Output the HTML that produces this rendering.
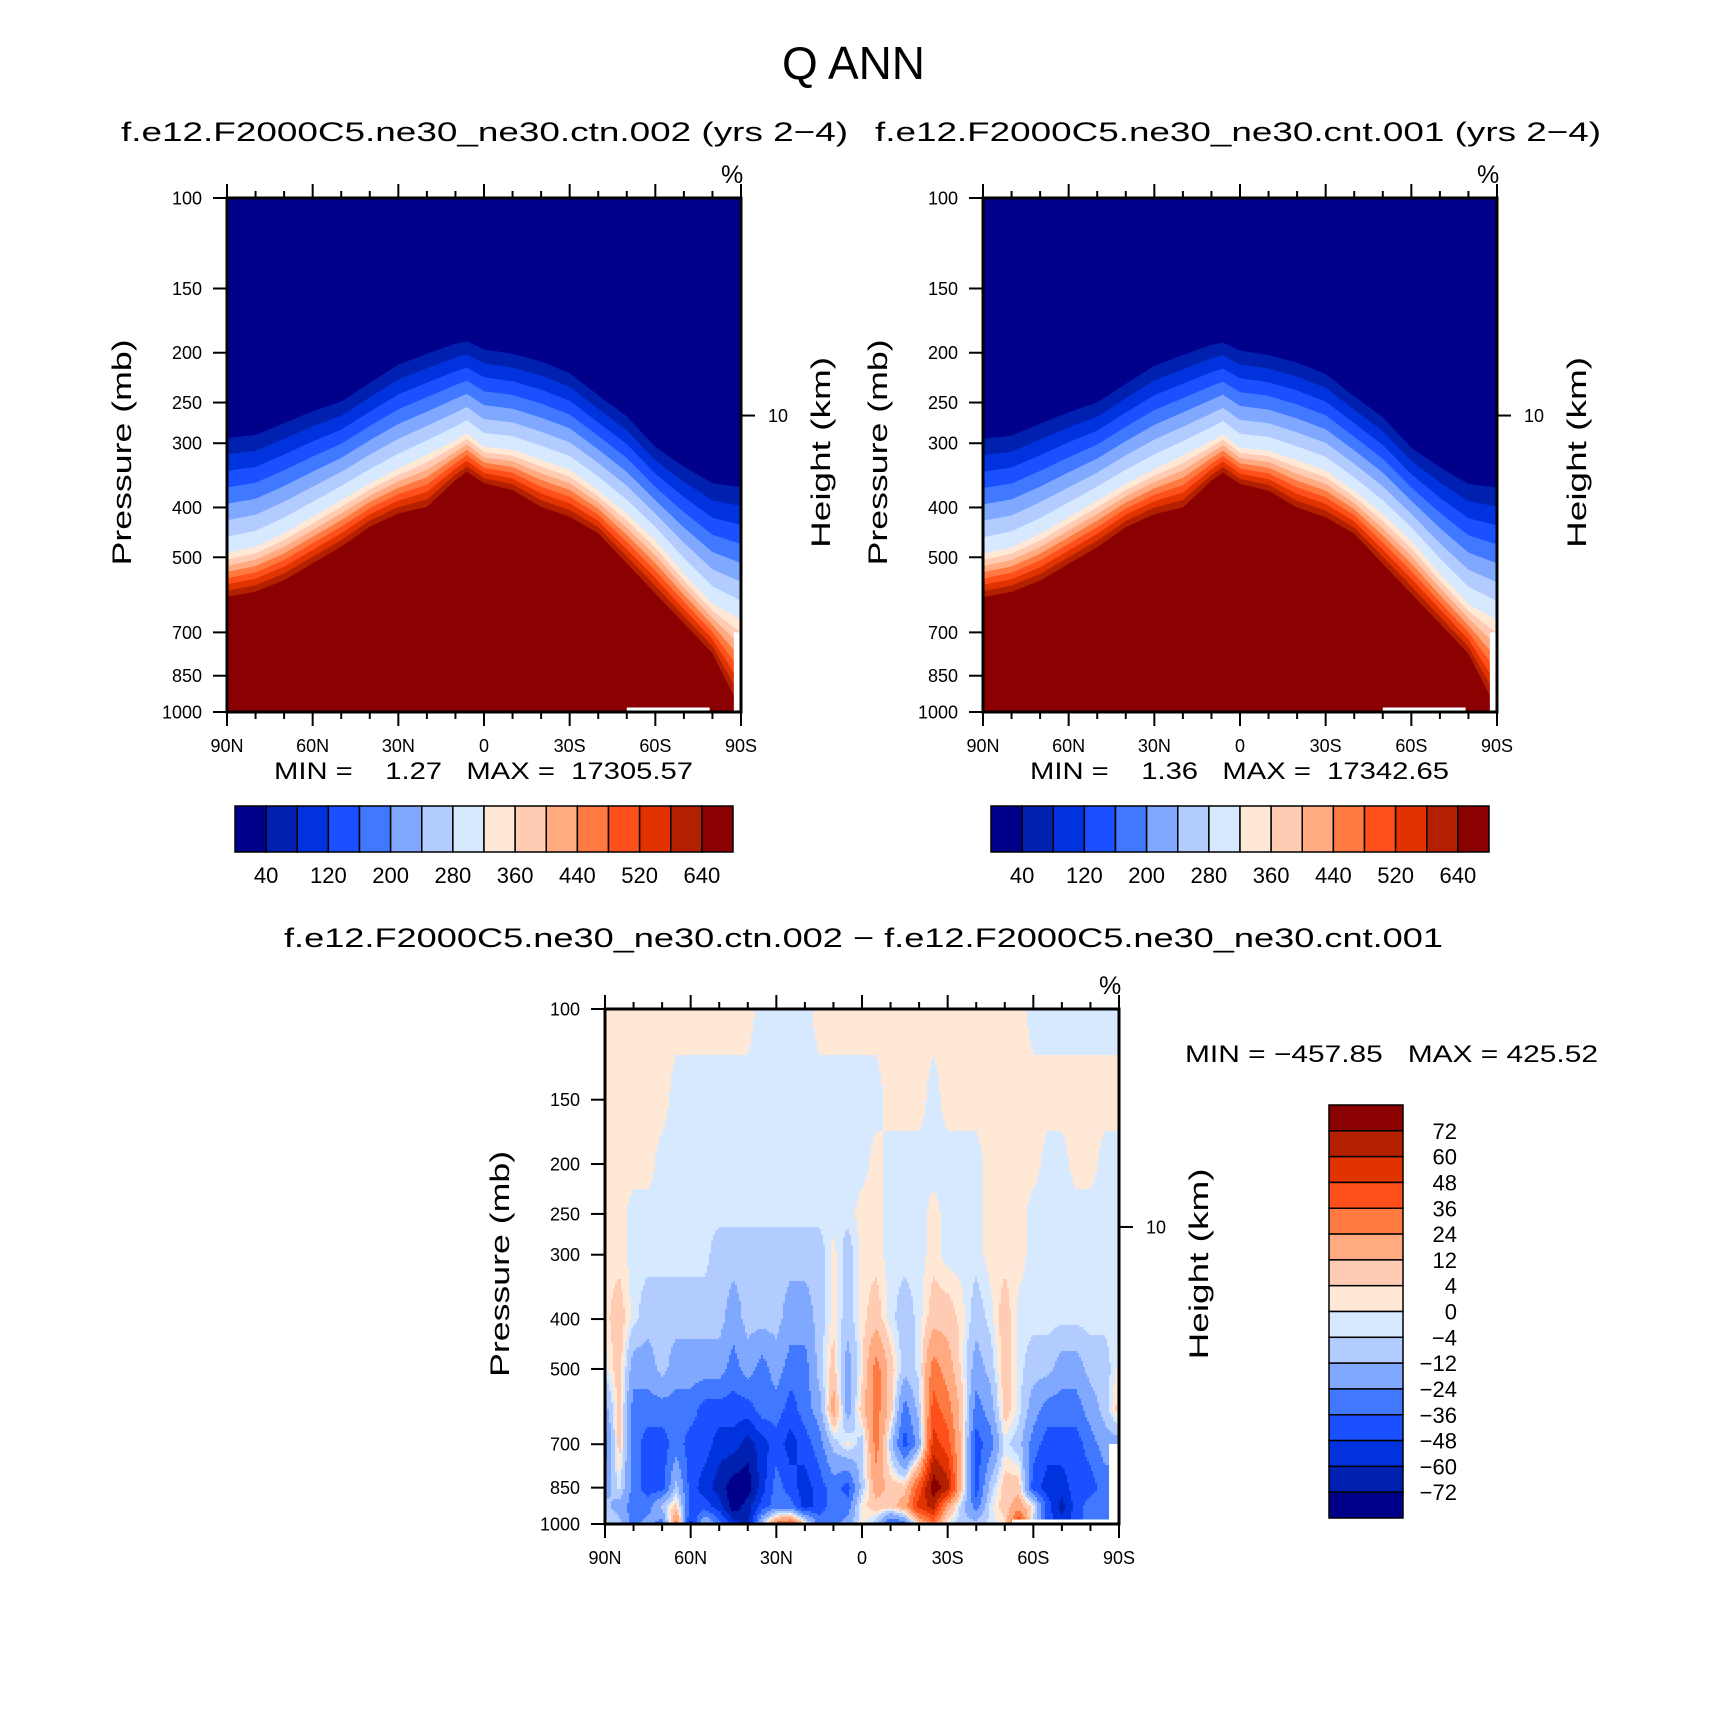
<!DOCTYPE html>
<html><head><meta charset="utf-8"><title>Q ANN</title>
<style>
html,body{margin:0;padding:0;background:#fff;}
svg{display:block;}
text{font-family:"Liberation Sans",sans-serif;fill:#000;}
</style></head>
<body>
<svg id="fig" xmlns="http://www.w3.org/2000/svg" width="1710" height="1733" viewBox="0 0 1710 1733">
<rect x="0" y="0" width="1710" height="1733" fill="#fff"/>
<text x="782" y="79" font-size="46" textLength="143" lengthAdjust="spacingAndGlyphs">Q ANN</text>
<text x="121" y="141" font-size="27" textLength="727" lengthAdjust="spacingAndGlyphs">f.e12.F2000C5.ne30_ne30.ctn.002 (yrs 2−4)</text>
<text x="875" y="141" font-size="27" textLength="726" lengthAdjust="spacingAndGlyphs">f.e12.F2000C5.ne30_ne30.cnt.001 (yrs 2−4)</text>
<text x="284" y="947" font-size="27" textLength="1159" lengthAdjust="spacingAndGlyphs">f.e12.F2000C5.ne30_ne30.ctn.002 − f.e12.F2000C5.ne30_ne30.cnt.001</text>
<text x="274" y="779" font-size="24" textLength="419" lengthAdjust="spacingAndGlyphs" xml:space="preserve">MIN =    1.27   MAX =  17305.57</text>
<text x="1030" y="779" font-size="24" textLength="419" lengthAdjust="spacingAndGlyphs" xml:space="preserve">MIN =    1.36   MAX =  17342.65</text>
<text x="1185" y="1062" font-size="24" textLength="413" lengthAdjust="spacingAndGlyphs" xml:space="preserve">MIN = −457.85   MAX = 425.52</text>
</svg>
<script>
// ---------- data: control / test panels (pressure, mb, of contour boundaries) ----------
const topLats = [90,80,70,60,50,40,30,20,10,6,0,-10,-20,-30,-40,-50,-60,-70,-80,-90];
const ctnLevel40p  = [293,289,274,260,249,229,211,201,192,190,197,201,208,219,242,266,305,333,359,365];
const ctnLevel320p = [491,477,449,417,387,359,336,316,296,287,305,309,323,338,370,411,463,537,615,662];
const ctnLevel640p = [597,583,554,514,477,436,411,399,354,341,359,370,399,417,449,514,588,672,769,990];
const cntLevel40p  = [294,290,275,261,250,230,212,202,193,191,198,202,209,220,243,267,306,334,360,366];
const cntLevel320p = [492,478,450,418,388,360,337,317,297,288,306,310,324,339,371,412,464,538,616,663];
const cntLevel640p = [598,584,555,515,478,437,412,400,355,342,360,371,400,418,450,515,589,673,770,990];
const topCbLabels = ['40','120','200','280','360','440','520','640'];
const topCbLabelSlots = [1,3,5,7,9,11,13,15];
// ---------- data: difference panel (values on lat x pressure grid) ----------
const diffLats = [90,85,80,75,70,65,60,55,50,45,40,35,30,25,20,15,10,5,0,-5,-10,-15,-20,-25,-30,-35,-40,-45,-50,-55,-60,-65,-70,-75,-80,-85,-90];
const diffLevels = [100,150,200,250,300,400,500,600,700,850,925,1000];
const diff100 = [2,2,2,2,2,2,2,2,2,2,2,-2,-2,-2,-2,2,2,2,2,2,2,2,2,2,2,2,2,2,2,2,-2,-2,-2,-2,-2,-2,-2];
const diff150 = [2,2,2,2,2,-2,-2,-2,-2,-2,-2,-2,-2,-2,-2,-2,-2,-2,-2,-2,2,2,2,-2,2,2,2,2,2,2,2,2,2,2,2,2,2];
const diff200 = [2,2,2,2,-2,-2,-2,-2,-2,-2,-2,-2,-2,-2,-2,-2,-2,-2,-2,2,-2,-2,-2,-2,-2,-2,-2,2,2,2,2,-2,-2,2,2,-2,-2];
const diff250 = [2,2,-2,-2,-2,-2,-2,-2,-2,-2,-2,-2,-2,-2,-2,-2,-2,-2,2,2,-2,-2,-2,2,-2,-2,-2,2,2,2,-2,-2,-2,-2,-2,-2,-2];
const diff300 = [2,2,-2,-2,-2,-2,-2,-2,-8,-8,-8,-8,-8,-8,-8,-8,2,-8,2,2,-2,-2,-2,2,-2,-2,-2,2,2,2,-2,-2,-2,-2,-2,-2,-2];
const diff400 = [2,8,-2,-8,-8,-8,-8,-8,-8,-18,-8,-8,-8,-18,-18,-8,2,-8,2,8,-2,-8,-2,8,8,2,-8,-2,8,-2,-2,-2,-2,-2,-2,-2,-2];
const diff500 = [-2,8,-18,-18,-8,-18,-18,-18,-18,-30,-18,-30,-18,-30,-30,-8,8,-18,2,30,8,-8,-2,30,18,2,-18,-8,8,-2,-8,-8,-18,-18,-8,-8,2];
const diff600 = [-18,8,-30,-30,-30,-30,-30,-42,-42,-42,-42,-30,-30,-42,-30,-18,18,-18,8,30,8,-30,-8,42,30,8,-30,-18,8,-2,-18,-30,-30,-30,-18,-8,8];
const diff700 = [-30,8,-30,-42,-42,-30,-42,-42,-54,-54,-66,-54,-42,-54,-42,-30,-8,2,-8,30,-8,-42,-18,54,42,8,-42,-30,-2,-8,-30,-42,-42,-42,-30,-18,-18];
const diff850 = [-18,-2,-30,-42,-42,-8,-42,-54,-66,-80,-80,-54,-30,-42,-54,-42,-30,-42,-8,18,8,8,42,80,66,8,-42,-8,8,8,-42,-54,-54,-42,-42,-30,-30];
const diff925 = [-8,-18,-30,-30,-8,8,-42,-42,-54,-80,-66,-42,-30,-30,-54,-42,-30,-30,2,8,8,18,54,66,18,-8,-30,-2,8,18,2,-42,-66,-42,-30,-30,-30];
const diff1000 = [-2,-8,-30,-18,-30,30,-54,-8,-30,-54,-66,-8,30,42,8,-30,-30,-18,2,-8,-42,-30,8,30,-2,-8,-8,-2,2,54,-8,-42,-54,-42,-30,-30,-30];
const diffCbLabels = ['72','60','48','36','24','12','4','0','−4','−12','−24','−36','−48','−60','−72'];
const diffThresholds = [-72,-60,-48,-36,-24,-12,-4,0,4,12,24,36,48,60,72];
const pressureTicks = [100,150,200,250,300,400,500,700,850,1000];
const latTickLabels = ['90N','60N','30N','0','30S','60S','90S'];
const latTickValues = [90,60,30,0,-30,-60,-90];
const heightTickP = 265;

const PAL = ['#00008b','#0020b0','#0033dd','#1a50ff','#4079ff','#80a8ff','#b3ccff','#d6e9ff','#ffe9d6','#ffccb3','#ffaa80','#ff7a40','#ff4f1a','#e03300','#b32000','#8b0000'];
const NS = 'http://www.w3.org/2000/svg';
const svg = document.getElementById('fig');
function mk(tag, attrs, parent){
  const e = document.createElementNS(NS, tag);
  for (const k in attrs) e.setAttribute(k, attrs[k]);
  (parent || svg).appendChild(e);
  return e;
}
function xLat(lat, L, W){ return L + W * (90 - lat) / 180; }
function yP(p, T, H){ return T + H * Math.log10(p / 100); }

function drawAxes(L, T, W, H, prefix){
  const g = mk('g', {});
  
  
  const border = mk('rect', {x:L, y:T, width:W, height:H, fill:'none', stroke:'#000', 'stroke-width':3}, g);
  
  
  for (let lat = 90; lat >= -90; lat -= 10){
    const x = xLat(lat, L, W);
    const major = (lat % 30 === 0);
    const len = major ? 14 : 7;
    const t1 = mk('line', {x1:x, y1:T, x2:x, y2:T-len, stroke:'#000', 'stroke-width':2}, g);
    
    
    const t2 = mk('line', {x1:x, y1:T+H, x2:x, y2:T+H+len, stroke:'#000', 'stroke-width':2}, g);
    
    
  }
  latTickValues.forEach((lat, i) => {
    const t = mk('text', {x:xLat(lat, L, W), y:T+H+40, 'font-size':18, 'text-anchor':'middle'}, g);
    t.textContent = latTickLabels[i];
    
    
  });
  pressureTicks.forEach(p => {
    const y = yP(p, T, H);
    const tk = mk('line', {x1:L-14, y1:y, x2:L, y2:y, stroke:'#000', 'stroke-width':2}, g);
    
    
    const t = mk('text', {x:L-25, y:y+6.5, 'font-size':18, 'text-anchor':'end'}, g);
    t.textContent = String(p);
    
    
  });
  const hy = yP(heightTickP, T, H);
  const ht = mk('line', {x1:L+W, y1:hy, x2:L+W+14, y2:hy, stroke:'#000', 'stroke-width':2}, g);
  
  
  const hl = mk('text', {x:L+W+27, y:hy+6.5, 'font-size':18}, g);
  hl.textContent = '10';
  
  
  const pc = mk('text', {x:L+W-20, y:T-15, 'font-size':25}, g);
  pc.textContent = '%';
  
  
  const cy = T + H * 0.495;
  const yt = mk('text', {x:0, y:0, 'font-size':27, 'text-anchor':'middle', textLength:226, lengthAdjust:'spacingAndGlyphs', transform:'translate(' + (L-96) + ',' + cy + ') rotate(-90)'}, g);
  yt.textContent = 'Pressure (mb)';
  
  
  const ht2 = mk('text', {x:0, y:0, 'font-size':27, 'text-anchor':'middle', textLength:191, lengthAdjust:'spacingAndGlyphs', transform:'translate(' + (L+W+89) + ',' + cy + ') rotate(-90)'}, g);
  ht2.textContent = 'Height (km)';
  
  
}

function drawTopPanel(L, T, W, H, prefix, b1, b8, b15){
  const cid = prefix + '-clip';
  const cp = mk('clipPath', {id:cid});
  mk('rect', {x:L, y:T, width:W, height:H}, cp);
  const g = mk('g', {'clip-path':'url(#' + cid + ')'});
  
  
  const bg = mk('rect', {x:L, y:T, width:W, height:H, fill:PAL[0]}, g);
  
  
  for (let k = 1; k <= 15; k++){
    const pts = [];
    topLats.forEach((lat, j) => {
      let lp;
      const a = Math.log10(b1[j]), m = Math.log10(b8[j]), z = Math.log10(b15[j]);
      if (k <= 8) lp = a + (m - a) * (k - 1) / 7; else lp = m + (z - m) * (k - 8) / 7;
      pts.push(xLat(lat, L, W).toFixed(1) + ',' + yP(Math.pow(10, lp), T, H).toFixed(1));
    });
    pts.push((L+W) + ',' + (T+H+5));
    pts.push(L + ',' + (T+H+5));
    const poly = mk('polygon', {points:pts.join(' '), fill:PAL[k]}, g);
    
    
  }
  const m1 = mk('rect', {x:xLat(-87.5, L, W), y:yP(700, T, H), width:xLat(-90, L, W)-xLat(-87.5, L, W), height:T+H-yP(700, T, H), fill:'#fff'}, g);
  
  
  const m2 = mk('rect', {x:xLat(-50, L, W), y:yP(980, T, H), width:xLat(-79, L, W)-xLat(-50, L, W), height:T+H-yP(980, T, H), fill:'#fff'}, g);
  
  
  drawAxes(L, T, W, H, prefix);
}

function drawHCb(L, T, W, H, prefix){
  const g = mk('g', {});
  
  
  const bw = W / 16;
  for (let k = 0; k < 16; k++){
    const r = mk('rect', {x:L + k*bw, y:T, width:bw, height:H, fill:PAL[k], stroke:'#000', 'stroke-width':1.5}, g);
    
    
  }
  topCbLabels.forEach((lab, i) => {
    const t = mk('text', {x:L + topCbLabelSlots[i]*bw, y:T+H+31, 'font-size':22, 'text-anchor':'middle'}, g);
    t.textContent = lab;
    
    
  });
}

drawTopPanel(227, 198, 514, 514, 'ctn-panel', ctnLevel40p, ctnLevel320p, ctnLevel640p);
drawTopPanel(983, 198, 514, 514, 'cnt-panel', cntLevel40p, cntLevel320p, cntLevel640p);
drawHCb(235, 806, 498, 46, 'ctn');
drawHCb(991, 806, 498, 46, 'cnt');

// ---------- difference panel ----------
(function(){
  const L = 605, T = 1009, W = 514, H = 515;
  const rows = [diff100, diff150, diff200, diff250, diff300, diff400, diff500, diff600, diff700, diff850, diff925, diff1000];
  const logL = diffLevels.map(p => Math.log10(p));
  function val(fi, lp){
    let j = 0;
    while (j < logL.length - 2 && lp > logL[j+1]) j++;
    const t = Math.max(0, Math.min(1, (lp - logL[j]) / (logL[j+1] - logL[j])));
    const i0 = Math.max(0, Math.min(diffLats.length - 2, Math.floor(fi)));
    const s = Math.max(0, Math.min(1, fi - i0));
    const a = rows[j][i0]*(1-s) + rows[j][i0+1]*s;
    const b = rows[j+1][i0]*(1-s) + rows[j+1][i0+1]*s;
    return a*(1-t) + b*t;
  }
  function cls(v){ let c = 0; for (const th of diffThresholds) if (v >= th) c++; return c; }
  const cid = 'diff-clip';
  const cp = mk('clipPath', {id:cid});
  mk('rect', {x:L, y:T, width:W, height:H}, cp);
  const g = mk('g', {'clip-path':'url(#' + cid + ')', 'shape-rendering':'crispEdges'});
  
  
  const step = 2;
  const latSpan = diffLats[0] - diffLats[diffLats.length-1];
  const dLat = diffLats[0] - diffLats[1];
  for (let y = T; y < T + H; y += step){
    const lp = 2 + (y + step/2 - T) / H;
    let runStart = L, runC = -1;
    for (let x = L; x <= L + W; x += step){
      let c = -1;
      if (x < L + W){
        const lat = 90 - latSpan * (x + step/2 - L) / W;
        const fi = (diffLats[0] - lat) / dLat;
        c = cls(val(fi, lp));
      }
      if (c !== runC){
        if (runC >= 0){
          const r = mk('rect', {x:runStart, y:y, width:x - runStart, height:step, fill:PAL[runC]}, g);
          
          
        }
        runStart = x; runC = c;
      }
    }
  }
  const m1 = mk('rect', {x:xLat(-86.5, L, W), y:yP(700, T, H), width:xLat(-90, L, W)-xLat(-86.5, L, W), height:T+H-yP(700, T, H), fill:'#fff'}, g);
  
  
  const m2 = mk('rect', {x:xLat(-52.5, L, W), y:yP(980, T, H), width:xLat(-90, L, W)-xLat(-52.5, L, W), height:T+H-yP(980, T, H), fill:'#fff'}, g);
  
  
  drawAxes(L, T, W, H, 'diff-panel');

  // vertical colorbar
  const cg = mk('g', {});
  
  
  const CL = 1329, CT = 1105, CW = 74, CH = 413, bh = CH / 16;
  for (let k = 0; k < 16; k++){
    const r = mk('rect', {x:CL, y:CT + k*bh, width:CW, height:bh, fill:PAL[15-k], stroke:'#000', 'stroke-width':1.5}, cg);
    
    
  }
  diffCbLabels.forEach((lab, i) => {
    const t = mk('text', {x:1457, y:CT + (i+1)*bh + 8, 'font-size':22, 'text-anchor':'end'}, cg);
    t.textContent = lab;
    
    
  });
})();
</script>
</body></html>
